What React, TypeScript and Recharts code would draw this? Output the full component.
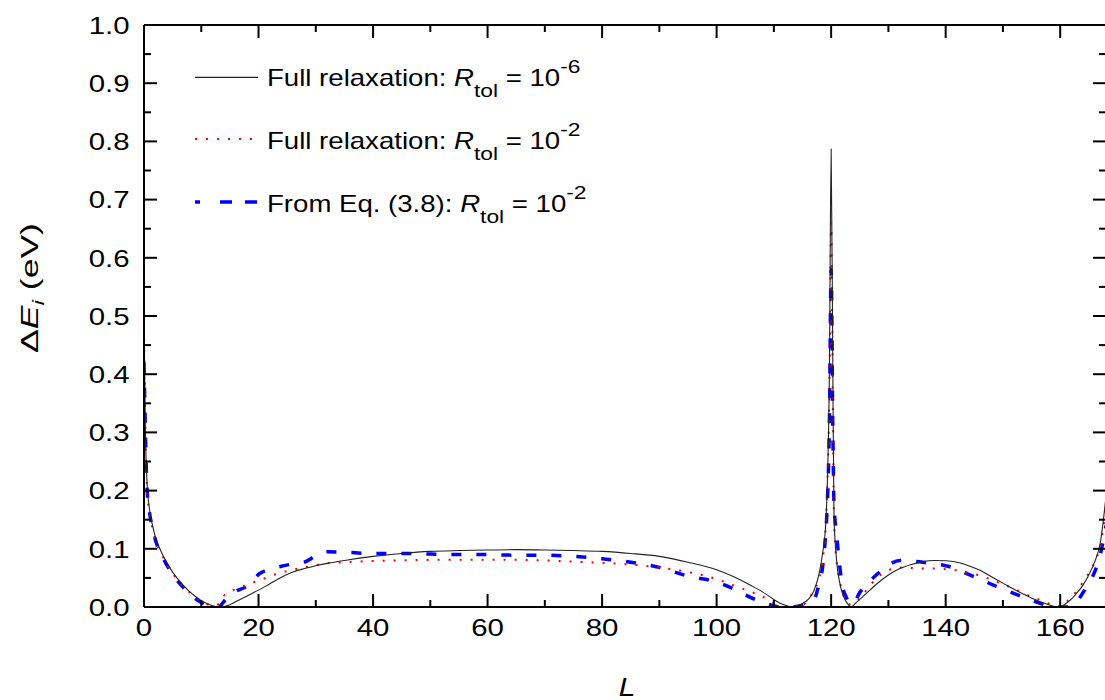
import React from 'react';
import { LineChart, Line, XAxis, YAxis } from 'recharts';

// ---- data ----
const L_VALUES = [0, 0.25, 0.5, 1, 1.5, 2, 3, 4, 5, 6, 7, 8, 9, 10, 11, 12, 13, 14, 15, 16, 18, 19, 20, 22, 24, 26, 28, 30, 32, 35, 40, 45, 50, 55, 60, 65, 70, 75, 80, 85, 90, 95, 100, 103, 106, 108, 110, 111, 112, 113, 114, 115, 116, 117, 118, 118.5, 119, 119.3, 119.7, 120, 120.3, 120.5, 121, 121.5, 122, 122.5, 123, 123.5, 124, 125, 126, 128, 130, 132, 134, 136, 138, 140, 142, 144, 146, 148, 150, 152, 154, 156, 158, 159, 160, 161, 162, 163, 164, 165, 166, 167, 168];

const FULL_TOL6 = [0.50, 0.30, 0.22, 0.165, 0.14, 0.12, 0.095, 0.076, 0.060, 0.047, 0.036, 0.026, 0.018, 0.011, 0.006, 0.002, 0.0, 0.001, 0.004, 0.009, 0.019, 0.024, 0.029, 0.040, 0.051, 0.060, 0.066, 0.071, 0.075, 0.080, 0.087, 0.092, 0.0955, 0.097, 0.098, 0.0985, 0.098, 0.097, 0.0955, 0.092, 0.087, 0.077, 0.064, 0.052, 0.037, 0.026, 0.013, 0.007, 0.003, 0.0, 0.002, 0.006, 0.013, 0.028, 0.062, 0.092, 0.135, 0.20, 0.41, 0.787, 0.40, 0.155, 0.075, 0.042, 0.022, 0.011, 0.004, 0.0, 0.004, 0.013, 0.022, 0.040, 0.055, 0.066, 0.073, 0.078, 0.080, 0.0795, 0.077, 0.071, 0.063, 0.052, 0.041, 0.030, 0.020, 0.011, 0.004, 0.001, 0.0, 0.006, 0.014, 0.025, 0.038, 0.055, 0.077, 0.11, 0.19];

const FULL_TOL2 = [0.48, 0.30, 0.21, 0.16, 0.135, 0.115, 0.092, 0.073, 0.058, 0.045, 0.034, 0.025, 0.017, 0.010, 0.005, 0.002, 0.005, 0.020, 0.026, 0.031, 0.038, 0.042, 0.045, 0.053, 0.059, 0.064, 0.068, 0.072, 0.075, 0.077, 0.079, 0.080, 0.081, 0.081, 0.081, 0.081, 0.080, 0.078, 0.076, 0.073, 0.068, 0.060, 0.048, 0.037, 0.026, 0.018, 0.006, 0.002, 0.0, 0.0, 0.001, 0.003, 0.012, 0.030, 0.050, 0.080, 0.13, 0.20, 0.37, 0.66, 0.35, 0.15, 0.075, 0.045, 0.024, 0.012, 0.006, 0.004, 0.005, 0.015, 0.027, 0.050, 0.063, 0.068, 0.067, 0.066, 0.066, 0.065, 0.063, 0.059, 0.054, 0.047, 0.039, 0.031, 0.022, 0.014, 0.006, 0.002, 0.0, 0.008, 0.017, 0.029, 0.043, 0.058, 0.077, 0.105, 0.17];

const EQ38_TOL2 = [0.42, 0.30, 0.21, 0.16, 0.135, 0.115, 0.09, 0.072, 0.056, 0.043, 0.032, 0.022, 0.014, 0.008, 0.004, 0.001, 0.0, 0.010, 0.021, 0.027, 0.036, 0.045, 0.056, 0.065, 0.070, 0.074, 0.077, 0.088, 0.095, 0.094, 0.092, 0.092, 0.091, 0.090, 0.090, 0.089, 0.089, 0.087, 0.083, 0.077, 0.068, 0.053, 0.043, 0.031, 0.016, 0.008, 0.002, 0.0, 0.0, 0.0, 0.001, 0.003, 0.006, 0.012, 0.045, 0.068, 0.12, 0.17, 0.32, 0.58, 0.30, 0.178, 0.12, 0.07, 0.034, 0.02, 0.01, 0.005, 0.007, 0.025, 0.037, 0.056, 0.072, 0.080, 0.079, 0.077, 0.074, 0.071, 0.065, 0.056, 0.048, 0.039, 0.031, 0.023, 0.015, 0.008, 0.002, 0.0, 0.0, 0.0, 0.002, 0.010, 0.025, 0.040, 0.060, 0.090, 0.14];

const X_TICKS = [0, 10, 20, 30, 40, 50, 60, 70, 80, 90, 100, 110, 120, 130, 140, 150, 160];
const Y_TICKS = [0, 0.05, 0.1, 0.15, 0.2, 0.25, 0.3, 0.35, 0.4, 0.45, 0.5, 0.55, 0.6, 0.65, 0.7, 0.75, 0.8, 0.85, 0.9, 0.95, 1.0];

const LEGEND_PREFIX = ['Full relaxation: ', 'Full relaxation: ', 'From Eq. (3.8): '];
const LEGEND_EXP = ['-6', '-2', '-2'];

const data = L_VALUES.map((l, i) => ({
  L: l,
  tol6: FULL_TOL6[i],
  tol2: FULL_TOL2[i],
  eq38: EQ38_TOL2[i],
}));

const FONT = '"Liberation Sans", Arial, Helvetica, sans-serif';
const SX = 1.2;
const TICK_FS = 24.5;
const MAJOR = 13;
const MINOR = 7;

const isMajorX = (v: number) => Math.round(v) % 20 === 0;
const isMajorY = (v: number) => Math.round(v * 100) % 10 === 0;

function BottomTick(props: any) {
  const { x, y, payload } = props;
  const v = payload.value;
  const major = isMajorX(v);
  return (
    <g>
      <line x1={x} y1={y} x2={x} y2={y - (major ? MAJOR : MINOR)} stroke="#000" strokeWidth={2} />
      {major && (
        <text transform={`translate(${x},${y + 29}) scale(${SX},1)`} textAnchor="middle" fontSize={TICK_FS} fontFamily={FONT} fill="#000">
          {v}
        </text>
      )}
    </g>
  );
}

function TopTick(props: any) {
  const { x, y, payload } = props;
  const major = isMajorX(payload.value);
  return <line x1={x} y1={y} x2={x} y2={y + (major ? MAJOR : MINOR)} stroke="#000" strokeWidth={2} />;
}

function LeftTick(props: any) {
  const { x, y, payload } = props;
  const v = payload.value;
  const major = isMajorY(v);
  return (
    <g>
      <line x1={x} y1={y} x2={x + (major ? MAJOR : MINOR)} y2={y} stroke="#000" strokeWidth={2} />
      {major && (
        <text transform={`translate(${x - 14.5},${y + 8.8}) scale(${SX},1)`} textAnchor="end" fontSize={TICK_FS} fontFamily={FONT} fill="#000">
          {v.toFixed(1)}
        </text>
      )}
    </g>
  );
}

function RightTick(props: any) {
  const { x, y, payload } = props;
  const major = isMajorY(payload.value);
  return <line x1={x} y1={y} x2={x - (major ? MAJOR : MINOR)} y2={y} stroke="#000" strokeWidth={2} />;
}

const LEGEND_LINE_Y = [77.3, 139, 202];
const LEGEND_BASE = [85.5, 148.5, 211.5];

function Legend() {
  return (
    <svg width={1105} height={700} style={{ position: 'absolute', left: 0, top: 0, pointerEvents: 'none' }}>
      <line x1={195} y1={LEGEND_LINE_Y[0]} x2={258} y2={LEGEND_LINE_Y[0]} stroke="#222" strokeWidth={1.2} />
      <line x1={195} y1={LEGEND_LINE_Y[1]} x2={252} y2={LEGEND_LINE_Y[1]} stroke="#ff0000" strokeWidth={2} strokeDasharray="2 9" />
      <line x1={195} y1={LEGEND_LINE_Y[2]} x2={258} y2={LEGEND_LINE_Y[2]} stroke="#0000ff" strokeWidth={3.5} strokeDasharray="5 20 12 13 12 13" />
      {LEGEND_PREFIX.map((p, i) => (
        <text key={i} transform={`translate(267,${LEGEND_BASE[i]}) scale(${SX},1)`} fontSize={23} fontFamily={FONT} fill="#000" style={{ whiteSpace: 'pre' }}>
          <tspan>{p}</tspan>
          <tspan fontStyle="italic">R</tspan>
          <tspan fontSize={19} dy={11}>tol</tspan>
          <tspan dy={-11}>{' = 10'}</tspan>
          <tspan fontSize={19} dy={-12.5}>{LEGEND_EXP[i]}</tspan>
        </text>
      ))}
      {/* axis titles */}
      <text transform={`translate(38,288) rotate(-90) scale(1.45,1)`} textAnchor="middle" fontSize={24.5} fontFamily={FONT} fill="#000" style={{ whiteSpace: 'pre' }}>
        <tspan>Δ</tspan>
        <tspan fontStyle="italic">E</tspan>
        <tspan fontSize={17} fontStyle="italic" dy={6}>i</tspan>
        <tspan dy={-6}>{' (eV)'}</tspan>
      </text>
      <text transform={`translate(627,696) scale(${SX},1)`} textAnchor="middle" fontSize={25} fontStyle="italic" fontFamily={FONT} fill="#000">
        L
      </text>
    </svg>
  );
}

export default function App() {
  return (
    <div style={{ position: 'fixed', left: 0, top: 0, width: 1105, height: 700, overflow: 'hidden', background: '#fff' }}>
      <LineChart width={1171} height={700} data={data} margin={{ top: 5, right: 5, bottom: 63, left: 84 }}>
        <XAxis
          xAxisId="bottom"
          dataKey="L"
          type="number"
          domain={[0, 168]}
          ticks={X_TICKS}
          interval={0}
          height={30}
          tickSize={0}
          tickMargin={0}
          tickLine={false}
          axisLine={{ stroke: '#000', strokeWidth: 2 }}
          tick={BottomTick}
          allowDataOverflow
        />
        <XAxis
          xAxisId="top"
          orientation="top"
          dataKey="L"
          type="number"
          domain={[0, 168]}
          ticks={X_TICKS}
          interval={0}
          height={20}
          tickSize={0}
          tickMargin={0}
          tickLine={false}
          axisLine={{ stroke: '#000', strokeWidth: 2 }}
          tick={TopTick}
          allowDataOverflow
        />
        <YAxis
          yAxisId="left"
          type="number"
          domain={[0, 1]}
          ticks={Y_TICKS}
          interval={0}
          width={60}
          tickSize={0}
          tickMargin={0}
          tickLine={false}
          axisLine={{ stroke: '#000', strokeWidth: 2 }}
          tick={LeftTick}
          allowDataOverflow
        />
        <YAxis
          yAxisId="right"
          orientation="right"
          type="number"
          domain={[0, 1]}
          ticks={Y_TICKS}
          interval={0}
          width={60}
          tickSize={0}
          tickMargin={0}
          tickLine={false}
          axisLine={{ stroke: '#000', strokeWidth: 2 }}
          tick={RightTick}
          allowDataOverflow
        />
        <Line xAxisId="top" yAxisId="right" dataKey="tol6" stroke="none" dot={false} activeDot={false} isAnimationActive={false} />
        <Line xAxisId="bottom" yAxisId="left" type="monotone" dataKey="eq38" stroke="#0000ff" strokeWidth={3.5} strokeDasharray="10 15" dot={false} activeDot={false} isAnimationActive={false} />
        <Line xAxisId="bottom" yAxisId="left" type="monotone" dataKey="tol2" stroke="#ff0000" strokeWidth={2} strokeDasharray="2 9" dot={false} activeDot={false} isAnimationActive={false} />
        <Line xAxisId="bottom" yAxisId="left" type="monotone" dataKey="tol6" stroke="#222" strokeWidth={1.1} dot={false} activeDot={false} isAnimationActive={false} />
      </LineChart>
      <Legend />
    </div>
  );
}
